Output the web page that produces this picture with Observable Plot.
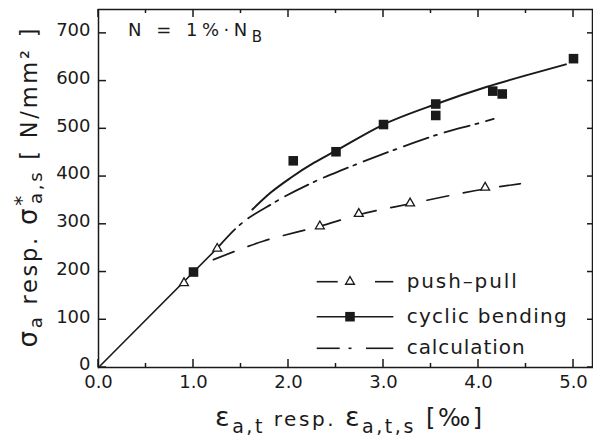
<!DOCTYPE html>
<html><head><meta charset="utf-8">
<script src="https://cdn.jsdelivr.net/npm/d3@7"></script>
<script src="https://cdn.jsdelivr.net/npm/@observablehq/plot@0.6"></script>
<style>html,body{margin:0;padding:0;background:#fff} svg{display:block}</style>
</head><body><div id="chart"></div>
<script>
// ---- data ----
const bendStrain = [1.0, 2.05, 2.5, 3.0, 3.55, 3.55, 4.15, 4.25, 5.0];
const bendStress = [200, 433, 452, 509, 552, 528, 579, 573, 647];
const ppStrain = [0.9, 1.25, 2.33, 2.74, 3.28, 4.07];
const ppStress = [177, 249, 296, 322, 344, 377];
const bendFitStrain = [1.62, 1.81, 2.02, 2.27, 2.48, 3.0, 3.57, 4.09, 4.5, 4.92];
const bendFitStress = [331, 366, 397, 429, 452, 509, 553, 588, 612, 635];
const ppFitStrain = [1.21, 1.74, 2.33, 2.74, 3.28, 4.07, 4.44];
const ppFitStress = [226, 265, 296, 320, 343, 374, 385];
const calcStrain = [1.25, 1.46, 1.845, 2.27, 2.58, 2.86, 3.14, 3.57, 4.04, 4.16];
const calcStress = [250, 294, 345, 389, 415, 437, 458, 488, 514, 521];
const elasticStrain = [0, 1.25];
const elasticStress = [0, 250];
const xTicks = [0, 1, 2, 3, 4, 5];
const xMinorTicks = [0.5, 1.5, 2.5, 3.5, 4.5];
const yTicks = [0, 100, 200, 300, 400, 500, 600, 700];
const legendLabels = ["push–pull", "cyclic bending", "calculation"];
const FONT = "DejaVu Sans";
const INK = "#1a1a1a";

function idx(a) { return d3.range(a.length); }

// inward ticks on all four sides, using the plot's scales
function ticksMark(index, scales, values, dim) {
  const x = scales.x, y = scales.y;
  const L = dim.marginLeft, R = dim.width - dim.marginRight, T = dim.marginTop, B = dim.height - dim.marginBottom;
  const g = d3.create("svg:g").attr("stroke", INK).attr("stroke-width", 1.5).attr("fill", "none");
  const seg = (x1, y1, x2, y2) => g.append("line").attr("x1", x1).attr("y1", y1).attr("x2", x2).attr("y2", y2);
  for (const v of xTicks) { seg(x(v), B, x(v), B - 8); seg(x(v), T, x(v), T + 8); }
  for (const v of xMinorTicks) { seg(x(v), B, x(v), B - 4); seg(x(v), T, x(v), T + 4); }
  for (const v of yTicks) { seg(L, y(v), L + 8, y(v)); seg(R, y(v), R - 5, y(v)); }
  return g.node();
}

function textMark(index, scales, values, dim) {
  const L = dim.marginLeft, R = dim.width - dim.marginRight, T = dim.marginTop, B = dim.height - dim.marginBottom;
  const g = d3.create("svg:g").attr("font-family", FONT).attr("fill", INK).attr("text-anchor", "start");
  // annotation
  const a = g.append("text").attr("x", L + 30).attr("y", T + 26.5).attr("font-size", 18)
    .attr("textLength", 134).attr("lengthAdjust", "spacing");
  a.append("tspan").text("N = 1%·N");
  a.append("tspan").attr("font-size", 15).attr("dy", 6).text("B");

  // legend
  const rows = [B - 85.3, B - 50.3, B - 18.7];
  const widths = [110, 160, 118];
  const s0 = L + 218.7, s1 = L + 295.3, sm = L + 252;
  const lg = g.append("g");
  rows.forEach((ry, i) => {
    lg.append("text").attr("x", L + 308.7).attr("y", ry + 6).attr("font-size", 20)
      .attr("textLength", widths[i]).attr("lengthAdjust", "spacing").text(legendLabels[i]);
  });
  const ln = (x1, y1, x2, y2, w) => lg.append("line").attr("x1", x1).attr("y1", y1).attr("x2", x2).attr("y2", y2)
    .attr("stroke", INK).attr("stroke-width", w || 1.6);
  // push-pull
  ln(s0, rows[0], s0 + 21, rows[0]); ln(sm + 25, rows[0], s1, rows[0]);
  lg.append("path").attr("d", d3.symbol(d3.symbolTriangle, Math.PI * 3.3 * 3.3)())
    .attr("transform", `translate(${sm},${rows[0]})`).attr("fill", "#fff").attr("stroke", INK).attr("stroke-width", 1.3);
  // cyclic bending
  ln(s0, rows[1], s1, rows[1]);
  lg.append("path").attr("d", d3.symbol(d3.symbolSquare, Math.PI * 5.4 * 5.4)())
    .attr("transform", `translate(${sm},${rows[1]})`).attr("fill", INK);
  // calculation
  ln(s0, rows[2], s0 + 23, rows[2]); ln(sm - 1.5, rows[2], sm + 1.5, rows[2]); ln(sm + 16, rows[2], s1, rows[2]);

  // x label
  const xl = g.append("text").attr("x", (L + R) / 2 + 3.5).attr("y", B + 59).attr("text-anchor", "middle")
    .attr("font-size", 20).attr("textLength", 267).attr("lengthAdjust", "spacing");
  xl.append("tspan").attr("font-size", 27).text("ε");
  xl.append("tspan").attr("font-size", 19).attr("dy", 7).text("a,t");
  xl.append("tspan").attr("dy", -7).text(" resp. ");
  xl.append("tspan").attr("font-size", 27).text("ε");
  xl.append("tspan").attr("font-size", 19).attr("dy", 7).text("a,t,s");
  xl.append("tspan").attr("font-size", 24).attr("dy", -7).text(" [‰]");

  // y label
  const yl = g.append("text").attr("transform", `translate(37,${(T + B) / 2}) rotate(-90)`).attr("text-anchor", "middle")
    .attr("font-size", 22.5).attr("textLength", 319).attr("lengthAdjust", "spacing");
  yl.append("tspan").attr("font-size", 26).text("σ");
  yl.append("tspan").attr("font-size", 18).attr("dy", 5).text("a");
  yl.append("tspan").attr("dy", -5).text(" resp. ");
  yl.append("tspan").attr("font-size", 26).text("σ");
  yl.append("tspan").attr("font-size", 20).attr("dy", -9).text("*");
  yl.append("tspan").attr("font-size", 18).attr("dy", 14).attr("dx", -11).text("a,s");
  yl.append("tspan").attr("dy", -5).text(" [ N/mm² ]");
  return g.node();
}

const chart = Plot.plot({
  width: 593,
  height: 445,
  marginLeft: 98,
  marginRight: 1,
  marginTop: 9,
  marginBottom: 78,
  style: {fontFamily: FONT, fontSize: "18px", color: INK, background: "#fff"},
  x: {domain: [0, 5.2]},
  y: {domain: [0, 750]},
  marks: [
    Plot.axisX({ticks: xTicks, tickFormat: d3.format(".1f"), tickSize: 0, tickPadding: 8, label: null, fontSize: 18}),
    Plot.axisY({ticks: yTicks, tickFormat: d => String(d), tickSize: 0, tickPadding: 8, label: null, fontSize: 18, dy: -3}),
    Plot.frame({stroke: INK, strokeWidth: 1.5}),
    ticksMark,
    Plot.line(idx(elasticStrain), {x: elasticStrain, y: elasticStress, stroke: INK, strokeWidth: 1.6}),
    Plot.line(idx(calcStrain), {x: calcStrain, y: calcStress, stroke: INK, strokeWidth: 1.8, strokeDasharray: "26,6,3,8", curve: "monotone-x"}),
    Plot.line(idx(bendFitStrain), {x: bendFitStrain, y: bendFitStress, stroke: INK, strokeWidth: 2, curve: "monotone-x"}),
    Plot.line(idx(ppFitStrain), {x: ppFitStrain, y: ppFitStress, stroke: INK, strokeWidth: 1.7, strokeDasharray: "22,15", curve: "monotone-x"}),
    Plot.dot(idx(ppStrain), {x: ppStrain, y: ppStress, symbol: "triangle", r: 3.3, fill: "#fff", stroke: INK, strokeWidth: 1.3}),
    Plot.dot(idx(bendStrain), {x: bendStrain, y: bendStress, symbol: "square", r: 5.4, fill: INK}),
    textMark
  ]
});
document.getElementById("chart").append(chart);
</script>
</body></html>
